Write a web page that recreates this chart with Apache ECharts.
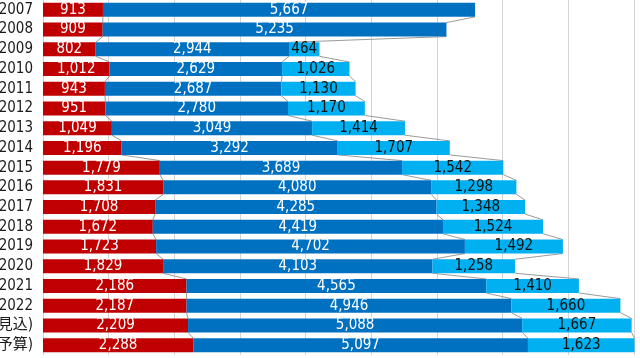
<!DOCTYPE html>
<html>
<head>
<meta charset="utf-8">
<script src="https://cdn.jsdelivr.net/npm/echarts@6/dist/echarts.min.js"></script>
<style>
html,body{margin:0;padding:0;background:#fff;}
#c{width:640px;height:358px;}
</style>
</head>
<body>
<div id="c"></div>
<script>
var categories = ['2007','2008','2009','2010','2011','2012','2013','2014','2015','2016','2017','2018','2019','2020','2021','2022','見込)','予算)'];
var redValues = [913,909,802,1012,943,951,1049,1196,1779,1831,1708,1672,1723,1829,2186,2187,2209,2288];
var blueValues = [5667,5235,2944,2629,2687,2780,3049,3292,3689,4080,4285,4419,4702,4103,4565,4946,5088,5097];
var lightValues = [null,null,464,1026,1130,1170,1414,1707,1542,1298,1348,1524,1492,1258,1410,1660,1667,1623];
var xTicks = [0,1000,2000,3000,4000,5000,6000,7000,8000,9000];

var FONT = '"Liberation Sans Narrow","DejaVu Sans Condensed","Noto Sans CJK JP",sans-serif';
var BAR_RATIO = 0.71;

function fmt(v){ return v == null ? '' : Number(v).toLocaleString('en-US'); }

// cumulative boundaries
var cum = [[],[],[]];
for (var i = 0; i < categories.length; i++) {
  var a = redValues[i], b = a + blueValues[i];
  cum[0].push(a);
  cum[1].push(b);
  cum[2].push(lightValues[i] == null ? null : b + lightValues[i]);
}

var lineData = [];
for (var j = 0; j < categories.length - 1; j++) lineData.push([0, j]);

var chart = echarts.init(document.getElementById('c'), null, {renderer:'canvas'});
chart.setOption({
  animation: false,
  grid: {left: 43, right: 6, top: 0, bottom: 3, containLabel: false, outerBoundsMode: 'none'},
  xAxis: {
    type: 'value', min: xTicks[0], max: xTicks[xTicks.length-1], interval: 1000,
    axisLabel: {show: false}, axisLine: {show: false}, axisTick: {show: false},
    splitLine: {show: true, lineStyle: {color: '#d4d4d4', width: 1}}
  },
  yAxis: {
    type: 'category', data: categories, inverse: true,
    axisLine: {show: false}, axisTick: {show: false},
    axisLabel: {color: '#1a1a1a', fontSize: 15, fontFamily: FONT, margin: 10}
  },
  series: [
    {
      type: 'custom', z: 1, silent: true,
      encode: {x: 0, y: 1},
      data: lineData,
      renderItem: function(params, api){
        var i = params.dataIndex;
        var half = api.size([0,1])[1] * BAR_RATIO / 2;
        var children = [];
        for (var k = 0; k < 3; k++) {
          var v0 = cum[k][i], v1 = cum[k][i+1];
          if (v0 == null || v1 == null) continue;
          var p0 = api.coord([v0, i]);
          var p1 = api.coord([v1, i+1]);
          children.push({
            type: 'line',
            shape: {x1: p0[0], y1: p0[1] + half, x2: p1[0], y2: p1[1] - half},
            style: {stroke: '#9a9a9a', lineWidth: 1}
          });
        }
        return {type: 'group', children: children};
      }
    },
    {
      name: 'red', type: 'bar', stack: 's', data: redValues, barWidth: (BAR_RATIO*100)+'%', clip: false, z: 2,
      itemStyle: {color: '#C00000'},
      label: {show: true, position: 'inside', color: '#fff', fontSize: 15, fontFamily: FONT, formatter: function(p){return fmt(p.value);}}
    },
    {
      name: 'blue', type: 'bar', stack: 's', data: blueValues, barWidth: (BAR_RATIO*100)+'%', clip: false, z: 2,
      itemStyle: {color: '#0070C0'},
      label: {show: true, position: 'inside', color: '#fff', fontSize: 15, fontFamily: FONT, formatter: function(p){return fmt(p.value);}}
    },
    {
      name: 'light', type: 'bar', stack: 's', data: lightValues, barWidth: (BAR_RATIO*100)+'%', clip: false, z: 2,
      itemStyle: {color: '#00B0F0'},
      label: {show: true, position: 'inside', color: '#111', fontSize: 15, fontFamily: FONT, formatter: function(p){return fmt(p.value);}}
    }
  ]
});
</script>
</body>
</html>
